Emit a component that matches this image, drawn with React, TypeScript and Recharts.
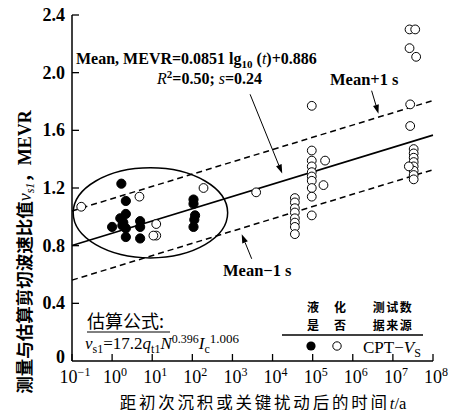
import React from 'react';
import { ScatterChart, Scatter, XAxis, YAxis, ReferenceLine, ReferenceArea } from 'recharts';

// ---- data ----
const xTicks = [1e-1, 1e0, 1e1, 1e2, 1e3, 1e4, 1e5, 1e6, 1e7, 1e8];
const xTickExponents = ['−1', '0', '1', '2', '3', '4', '5', '6', '7', '8'];
const yTicks = [0, 0.4, 0.8, 1.2, 1.6, 2.0, 2.4];
const yTickLabels = ['0', '0.4', '0.8', '1.2', '1.6', '2.0', '2.4'];

// liquefied (filled)
const liqTime = [1.7, 2.2, 2.2, 1.6, 1.0, 1.9, 2.2, 2.2, 5.0, 5.0, 5.0, 1.8, 107, 107, 117, 112, 107];
const liqMEVR = [1.23, 1.11, 1.02, 0.99, 0.93, 0.96, 0.92, 0.86, 0.97, 0.93, 0.85, 0.94, 1.12, 1.09, 1.01, 0.98, 0.93];

// non-liquefied (open)
const nonLiqTime = [
  0.17, 4.8, 12.6, 12.6, 10.7, 190, 3900,
  36000, 36000, 36000, 36000, 36000, 36000, 36000, 36000,
  95000, 95000, 95000, 95000, 95000, 95000, 95000, 95000, 95000, 95000,
  204000, 186000,
  2.6e7, 3.6e7, 2.6e7, 3.8e7, 2.7e7, 2.7e7,
  3.3e7, 3.3e7, 3.3e7, 3.3e7, 3.3e7, 3.3e7, 3.3e7, 3.3e7, 2.5e7,
];
const nonLiqMEVR = [
  1.07, 1.14, 0.95, 0.87, 0.87, 1.2, 1.17,
  1.13, 1.1, 1.06, 1.03, 0.99, 0.96, 0.93, 0.88,
  1.77, 1.46, 1.39, 1.35, 1.31, 1.28, 1.25, 1.2, 1.14, 1.01,
  1.39, 1.22,
  2.3, 2.3, 2.17, 2.11, 1.78, 1.63,
  1.47, 1.44, 1.41, 1.38, 1.35, 1.32, 1.29, 1.26, 1.35,
];

// regression: MEVR = a lg10(t) + b, standard deviation s
const regSlope = 0.0851;
const regIntercept = 0.886;
const regSD = 0.24;
const tMin = 0.1;
const tMax = 1e8;

// ellipse (data units) bounding the low-time cluster
const ellipseT = [0.107, 760];
const ellipseMEVR = [0.715, 1.34];

// annotation arrows (data units): [tStart, yStart, tEnd, yEnd]
const arrowMean = [2750, 1.85, 17400, 1.3];
const arrowPlus = [2.95e6, 1.875, 4.37e6, 1.715];
const arrowMinus = [3020, 0.709, 1700, 0.88];

const liqData = liqTime.map((t, i) => ({ t, v: liqMEVR[i] }));
const nonLiqData = nonLiqTime.map((t, i) => ({ t, v: nonLiqMEVR[i] }));
const fit = (t: number, k: number) => regSlope * Math.log10(t) + regIntercept + k * regSD;

const SERIF = '"Liberation Serif", "Times New Roman", serif';
const CJK = '"Noto Sans CJK SC", sans-serif';

const FilledDot = (p: any) => <circle cx={p.cx} cy={p.cy} r={4.6} fill="#000" stroke="#000" strokeWidth={1} />;
const OpenDot = (p: any) => <circle cx={p.cx} cy={p.cy} r={4.4} fill="#fff" stroke="#000" strokeWidth={1} />;

const XTick = (p: any) => {
  const idx = xTicks.indexOf(p.payload.value);
  return (
    <g>
      <line x1={p.x} y1={p.y} x2={p.x} y2={p.y - 7} stroke="#000" strokeWidth={1.3} />
      <text x={p.x + 3} y={p.y + 22} textAnchor="middle" fontFamily={SERIF} fontSize={18} fill="#000">
        <tspan>10</tspan>
        <tspan dy={-7} fontSize={12}>{xTickExponents[idx]}</tspan>
      </text>
    </g>
  );
};

const YTick = (p: any) => {
  const idx = yTicks.indexOf(p.payload.value);
  const isZero = p.payload.value === 0;
  return (
    <g>
      {!isZero && (
        <line x1={p.x} y1={p.y} x2={p.x + 7} y2={p.y} stroke="#000" strokeWidth={1.3} />
      )}
      <text x={p.x - 7} y={p.y + (isZero ? 2 : 6)} textAnchor="end" fontFamily={SERIF} fontSize={18} fontWeight="bold" fill="#000">
        {yTickLabels[idx]}
      </text>
    </g>
  );
};

const Arrow = (p: any) => {
  const { x1, y1, x2, y2 } = p;
  const dx = x2 - x1;
  const dy = y2 - y1;
  const len = Math.sqrt(dx * dx + dy * dy) || 1;
  const ux = dx / len;
  const uy = dy / len;
  const hl = 9;
  const hw = 3;
  const bx = x2 - ux * hl;
  const by = y2 - uy * hl;
  return (
    <g>
      <line x1={x1} y1={y1} x2={bx} y2={by} stroke="#000" strokeWidth={1} />
      <polygon
        points={`${x2},${y2} ${bx - uy * hw},${by + ux * hw} ${bx + uy * hw},${by - ux * hw}`}
        fill="#000"
      />
    </g>
  );
};

const EllipseShape = (p: any) => (
  <ellipse
    cx={p.x + p.width / 2}
    cy={p.y + p.height / 2}
    rx={Math.abs(p.width) / 2}
    ry={Math.abs(p.height) / 2}
    fill="none"
    stroke="#000"
    strokeWidth={1.5}
  />
);

const OY = 4;

export default function App() {
  return (
    <div style={{ position: 'relative', width: 449, height: 406, marginTop: -4 }}>
      <ScatterChart width={449} height={410} margin={{ top: 11, right: 24, bottom: 0, left: 0 }}>
        <XAxis
          dataKey="t"
          type="number"
          scale="log"
          domain={[tMin, tMax]}
          ticks={xTicks}
          allowDataOverflow
          height={53}
          tickSize={0}
          tickMargin={0}
          tickLine={false}
          tick={<XTick />}
          axisLine={{ stroke: '#000', strokeWidth: 1.5 }}
          interval={0}
        />
        <YAxis
          dataKey="v"
          type="number"
          domain={[0, 2.4]}
          ticks={yTicks}
          allowDataOverflow
          width={64}
          tickSize={0}
          tickMargin={0}
          tickLine={false}
          tick={<YTick />}
          axisLine={{ stroke: '#000', strokeWidth: 1.5 }}
          interval={0}
        />
        <ReferenceArea
          x1={ellipseT[0]}
          x2={ellipseT[1]}
          y1={ellipseMEVR[0]}
          y2={ellipseMEVR[1]}
          shape={EllipseShape}
          ifOverflow="visible"
        />
        <ReferenceLine
          segment={[{ x: tMin, y: fit(tMin, 0) }, { x: tMax, y: fit(tMax, 0) }]}
          stroke="#000"
          strokeWidth={1.6}
          ifOverflow="visible"
        />
        <ReferenceLine
          segment={[{ x: tMin, y: fit(tMin, 1) }, { x: tMax, y: fit(tMax, 1) }]}
          stroke="#000"
          strokeWidth={1.5}
          strokeDasharray="6 4"
          ifOverflow="visible"
        />
        <ReferenceLine
          segment={[{ x: tMin, y: fit(tMin, -1) }, { x: tMax, y: fit(tMax, -1) }]}
          stroke="#000"
          strokeWidth={1.5}
          strokeDasharray="6 4"
          ifOverflow="visible"
        />
        <ReferenceLine segment={[{ x: arrowMean[0], y: arrowMean[1] }, { x: arrowMean[2], y: arrowMean[3] }]} shape={Arrow} ifOverflow="visible" />
        <ReferenceLine segment={[{ x: arrowPlus[0], y: arrowPlus[1] }, { x: arrowPlus[2], y: arrowPlus[3] }]} shape={Arrow} ifOverflow="visible" />
        <ReferenceLine segment={[{ x: arrowMinus[0], y: arrowMinus[1] }, { x: arrowMinus[2], y: arrowMinus[3] }]} shape={Arrow} ifOverflow="visible" />
        <Scatter data={nonLiqData} shape={OpenDot} isAnimationActive={false} />
        <Scatter data={liqData} shape={FilledDot} isAnimationActive={false} />
      </ScatterChart>
      <svg width={449} height={410} style={{ position: 'absolute', left: 0, top: 0, pointerEvents: 'none' }}>
        <g transform={`translate(0,${OY})`}>
          {/* regression annotation */}
          <text x={68} y={56} fontFamily={SERIF} fontSize={16} fontWeight="bold" fill="#000">
            Mean, MEVR=0.0851 lg<tspan dy={4} fontSize={11}>10</tspan><tspan dy={-4}> (</tspan><tspan fontStyle="italic" fontWeight="normal">t</tspan>)+0.886
          </text>
          <text x={149} y={76} fontFamily={SERIF} fontSize={16} fontWeight="bold" fill="#000">
            <tspan fontStyle="italic" fontWeight="normal">R</tspan><tspan dy={-6} fontSize={11}>2</tspan><tspan dy={6}>=0.50; </tspan><tspan fontStyle="italic" fontWeight="normal">s</tspan>=0.24
          </text>
          <text x={322} y={77} fontFamily={SERIF} fontSize={16.5} fontWeight="bold" fill="#000">Mean+1 s</text>
          <text x={215} y={268} fontFamily={SERIF} fontSize={16.5} fontWeight="bold" fill="#000">Mean−1 s</text>
          {/* formula box */}
          <text x={79} y={320} fontFamily={CJK} fontSize={18} fill="#000">估算公式:</text>
          <line x1={79} y1={324} x2={162} y2={324} stroke="#000" strokeWidth={1} />
          <text x={77} y={341} fontFamily={SERIF} fontSize={17} fill="#000">
            <tspan fontStyle="italic">v</tspan><tspan dy={4} fontSize={12}>s1</tspan><tspan dy={-4}>=17.2</tspan><tspan fontStyle="italic">q</tspan><tspan dy={4} fontSize={12}>t1</tspan><tspan dy={-4} fontStyle="italic">N</tspan><tspan dy={-6} fontSize={12}>0.396</tspan><tspan dy={6} fontStyle="italic">I</tspan><tspan dy={4} fontSize={12}>c</tspan><tspan dy={-10} fontSize={13}>1.006</tspan>
          </text>
          {/* legend */}
          <text x={305} y={304} textAnchor="middle" fontFamily={CJK} fontSize={12} fontWeight="bold" fill="#000">液</text>
          <text x={332} y={304} textAnchor="middle" fontFamily={CJK} fontSize={12} fontWeight="bold" fill="#000">化</text>
          <text x={305} y={322} textAnchor="middle" fontFamily={CJK} fontSize={12} fontWeight="bold" fill="#000">是</text>
          <text x={332} y={322} textAnchor="middle" fontFamily={CJK} fontSize={12} fontWeight="bold" fill="#000">否</text>
          <text x={385} y={304} textAnchor="middle" fontFamily={CJK} fontSize={12} fontWeight="bold" fill="#000" letterSpacing={1.5}>测试数</text>
          <text x={385} y={322} textAnchor="middle" fontFamily={CJK} fontSize={12} fontWeight="bold" fill="#000" letterSpacing={1.5}>据来源</text>
          <line x1={274} y1={327} x2={415} y2={327} stroke="#000" strokeWidth={1.3} />
          <circle cx={303} cy={338} r={4.6} fill="#000" />
          <circle cx={329} cy={338} r={4.2} fill="#fff" stroke="#000" strokeWidth={1} />
          <text x={355} y={345} fontFamily={SERIF} fontSize={17} fill="#000">
            CPT−<tspan fontStyle="italic">V</tspan><tspan dy={4} fontSize={12}>S</tspan>
          </text>
          {/* axis titles */}
          <text
            transform="translate(17,244) rotate(-90)"
            textAnchor="middle"
            dy={6}
            fontFamily={CJK}
            fontSize={17.5}
            fontWeight="bold"
            fill="#000"
          >
            测量与估算剪切波速比值<tspan fontFamily={SERIF} fontStyle="italic" fontWeight="normal" fontSize={18}>v</tspan><tspan fontFamily={SERIF} fontSize={12} dy={3} fontStyle="italic" fontWeight="normal">s1</tspan><tspan dy={-3}>，</tspan><tspan fontFamily={SERIF} fontSize={18}>MEVR</tspan>
          </text>
          <text x={255} y={401} textAnchor="middle" fontFamily={CJK} fontSize={16.5} fill="#000" letterSpacing={2.8}>
            距初次沉积或关键扰动后的时间<tspan fontFamily={SERIF} fontStyle="italic" letterSpacing={0}>t</tspan><tspan fontFamily={SERIF} letterSpacing={0}>/a</tspan>
          </text>
        </g>
      </svg>
    </div>
  );
}
